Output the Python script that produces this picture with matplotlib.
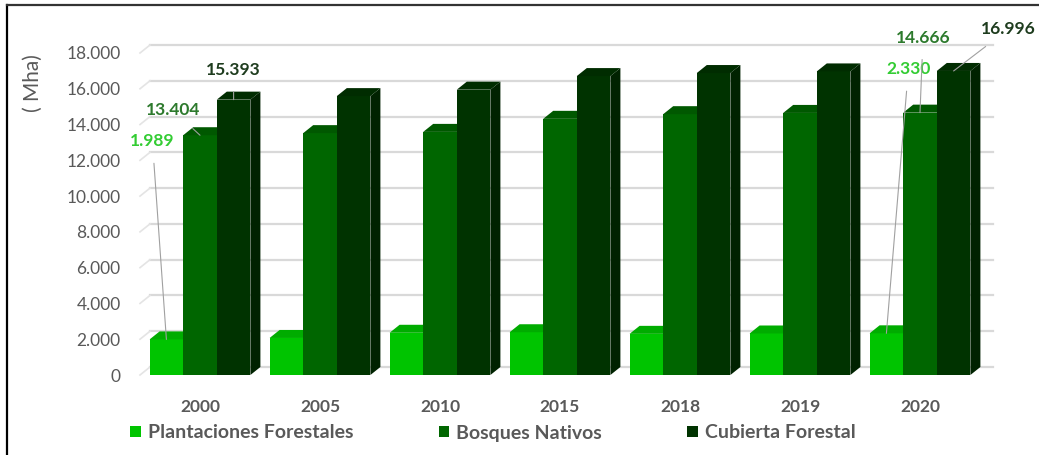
import numpy as np
import matplotlib
matplotlib.use("Agg")
import matplotlib.pyplot as plt
from matplotlib.patches import Polygon, Patch
from matplotlib.lines import Line2D

# data (thousand ha)
years = ["2000", "2005", "2010", "2015", "2018", "2019", "2020"]
plantaciones = [1989, 2070, 2360, 2390, 2300, 2320, 2330]
bosques = [13404, 13520, 13590, 14320, 14580, 14650, 14666]
cubierta = [15393, 15590, 15950, 16710, 16880, 16970, 16996]

series_names = ["Plantaciones Forestales", "Bosques Nativos", "Cubierta Forestal"]
front_cols = ["#00c400", "#006600", "#003300"]
top_cols = ["#00ac00", "#005800", "#002c00"]
side_cols = ["#009a00", "#004c00", "#002200"]

W, H = 1039, 455
DPI = 100
GRAY = "#595959"
FONT = "Lato"


def fmt(v):
    return f"{v:,.0f}".replace(",", ".")


fig = plt.figure(figsize=(W / DPI, H / DPI), dpi=DPI)
ax = fig.add_axes([140 / W, 80 / H, 840 / W, 322 / H])
ax.set_xlim(-0.5, len(years) - 0.5)
ax.set_ylim(0, 18000)

# pixel -> data scale for the 3d depth
px_x = len(years) / 840.0
px_y = 18000 / 322.0
ddx, ddy = 10 * px_x, 8 * px_y

# back wall gridlines + left wall diagonals
for v in range(0, 18001, 2000):
    ax.plot([-0.5 + ddx, len(years) - 0.5 + ddx * 1.3], [v + ddy, v + ddy],
            color="#d9d9d9", lw=1.6, clip_on=False, zorder=0)
    ax.plot([-0.5, -0.5 + ddx], [v, v + ddy], color="#e4e4e4", lw=1.2,
            clip_on=False, zorder=0)

x = np.arange(len(years))
bw = 0.28
all_series = [plantaciones, bosques, cubierta]
bars = []
for i, vals in enumerate(all_series):
    pos = x + (i - 1) * bw
    bc = ax.bar(pos, vals, width=bw, color=front_cols[i], zorder=3 + 2 * i,
                label=series_names[i])
    bars.append(bc)
    for rect in bc:
        x0, w, h = rect.get_x(), rect.get_width(), rect.get_height()
        top = Polygon([(x0, h), (x0 + ddx, h + ddy), (x0 + w + ddx, h + ddy), (x0 + w, h)],
                      closed=True, fc=top_cols[i], ec="none", zorder=3 + 2 * i,
                      clip_on=False)
        side = Polygon([(x0 + w, 0), (x0 + w + ddx, ddy), (x0 + w + ddx, h + ddy), (x0 + w, h)],
                       closed=True, fc=side_cols[i], ec="none", zorder=2 + 2 * i,
                       clip_on=False)
        ax.add_patch(side)
        ax.add_patch(top)

for s in ax.spines.values():
    s.set_visible(False)
ax.tick_params(length=0)
ax.set_xticks(x)
ax.set_xticklabels(years, fontsize=12.5, color=GRAY, fontweight="bold", family=FONT)
ax.tick_params(axis="x", pad=17)
ax.set_yticks(range(0, 18001, 2000))
ax.set_yticklabels([fmt(v) for v in range(0, 18001, 2000)], fontsize=12.5,
                   color=GRAY, family=FONT)
ax.tick_params(axis="y", pad=14)
ax.patch.set_visible(False)

fig.text(33 / W, 1 - 83 / H, "( Mha)", rotation=90, ha="center", va="center",
         fontsize=15, color=GRAY, family=FONT)

# data labels with leader lines (first and last year)
lab_cols = ["#33cc33", "#2d7a2d", "#1e3c1e"]
offsets = {
    (0, 0): (-14, 198), (0, 1): (-27, 25), (0, 2): (0, 30),
    (6, 0): (22, 264), (6, 1): (3, 75), (6, 2): (55, 42),
}
for (yi, si), (ox, oy) in offsets.items():
    rect = bars[si][yi]
    cx = rect.get_x() + rect.get_width() / 2
    v = all_series[si][yi]
    ax.annotate(fmt(v), xy=(cx, v), xytext=(ox, oy), textcoords="offset pixels",
                ha="center", va="center", fontsize=12.5, fontweight="bold",
                color=lab_cols[si], family=FONT, zorder=20,
                arrowprops=dict(arrowstyle="-", color="#a0a0a0", lw=0.8,
                                shrinkA=8, shrinkB=0))

handles = [Patch(facecolor=c, edgecolor="none") for c in front_cols]
fig.legend(handles, series_names, loc="center left", bbox_to_anchor=(130 / W, 1 - 433 / H),
           ncol=3, frameon=False, borderaxespad=0, borderpad=0,
           handlelength=0.55, handleheight=0.55, handletextpad=0.35,
           columnspacing=4.4, prop={"family": FONT, "size": 14, "weight": "bold"},
           labelcolor=GRAY)

# outer frame (left and top edges)
fig.add_artist(Line2D([7 / W, 7 / W], [0, 1 - 5 / H], color="black", lw=1.6))
fig.add_artist(Line2D([7 / W, 1], [1 - 5 / H, 1 - 5 / H], color="#333333", lw=1.6))

fig.savefig("out.png", dpi=DPI)
